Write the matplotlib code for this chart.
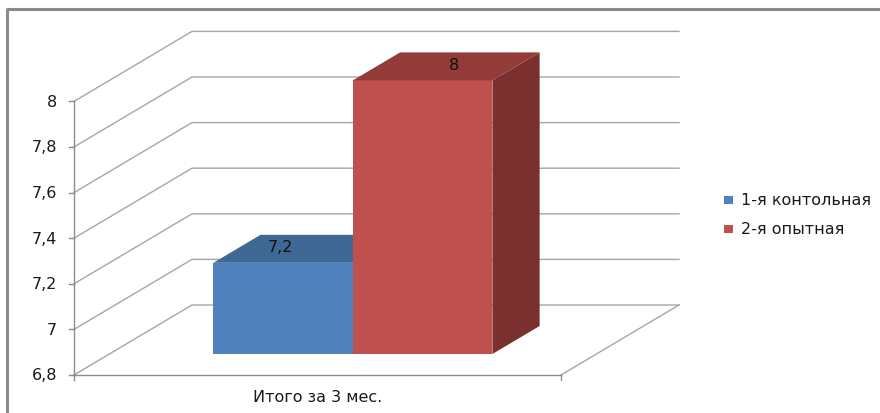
import matplotlib
matplotlib.use("Agg")
import matplotlib.pyplot as plt
from matplotlib.patches import Polygon

# ---- data ----
category = "Итого за 3 мес."
series_names = ["1-я контольная", "2-я опытная"]
values = [7.2, 8.0]
value_labels = ["7,2", "8"]
yticks = [6.8, 7.0, 7.2, 7.4, 7.6, 7.8, 8.0]
ytick_labels = ["6,8", "7", "7,2", "7,4", "7,6", "7,8", "8"]

front_colors = ["#4F81BD", "#C0504D"]
top_colors = ["#3F6895", "#933B39"]
side_colors = ["#34567D", "#7A302F"]
label_dx = [-26, 8]  # label offsets on bar tops (layout)

# ---- pseudo-3D projection (layout constants) ----
VMIN, VMAX = yticks[0], yticks[-1]
OX, OY = 74, 376          # front-left-bottom corner of the floor
W = 487                   # floor width
DX, DY = 118, -70         # depth vector
S = 228                   # pixels per value unit


def P(x, v, d):
    return (OX + x * W + d * DX, OY - (v - VMIN) * S + d * DY)


fig = plt.figure(figsize=(8.8, 4.14), dpi=100)
ax = fig.add_axes([0, 0, 1, 1])
ax.set_xlim(0, 880)
ax.set_ylim(414, 0)
ax.axis("off")

grid_c = "#A6A6A6"
axis_c = "#8C8C8C"
FS = 11.5
font = "DejaVu Sans"
tc_ = "#1a1a1a"

# gridlines: left wall diagonal + back wall horizontal
for v in yticks:
    a, b, c = P(0, v, 0), P(0, v, 1), P(1, v, 1)
    ax.plot([a[0], b[0], c[0]], [a[1], b[1], c[1]], color=grid_c, lw=1.0, zorder=1)
# floor right edge
f1, f2 = P(1, VMIN, 0), P(1, VMIN, 1)
ax.plot([f1[0], f2[0]], [f1[1], f2[1]], color=grid_c, lw=1.0, zorder=1)

# front axes
a0, a1 = P(0, VMIN, 0), P(0, VMAX, 0)
ax.plot([a0[0], a1[0]], [a0[1], a1[1]], color=axis_c, lw=1.0, zorder=2)
ax.plot([a0[0], f1[0]], [a0[1], f1[1]], color=axis_c, lw=1.0, zorder=2)
for v, lab in zip(yticks, ytick_labels):
    p = P(0, v, 0)
    ax.plot([p[0] - 5, p[0]], [p[1], p[1]], color=axis_c, lw=1.0, zorder=2)
    ax.text(p[0] - 17, p[1], lab, ha="right", va="center", fontsize=FS,
            family=font, color=tc_)
for x in (0, 1):
    p = P(x, VMIN, 0)
    ax.plot([p[0], p[0]], [p[1], p[1] + 5], color=axis_c, lw=1.0, zorder=2)
pc = P(0.5, VMIN, 0)
ax.text(pc[0], pc[1] + 22, category, ha="center", va="center", fontsize=FS,
        family=font, color=tc_)

# bars
bar_w = 0.2865
d0, d1 = 0.3, 0.7
n = len(values)
x_left = 0.5 - bar_w * n / 2
for i, (val, lab) in enumerate(zip(values, value_labels)):
    xa = x_left + i * bar_w
    xb = xa + bar_w
    front = [P(xa, VMIN, d0), P(xb, VMIN, d0), P(xb, val, d0), P(xa, val, d0)]
    top = [P(xa, val, d0), P(xb, val, d0), P(xb, val, d1), P(xa, val, d1)]
    side = [P(xb, VMIN, d0), P(xb, VMIN, d1), P(xb, val, d1), P(xb, val, d0)]
    z = 5 + i
    ax.add_patch(Polygon(side, closed=True, fc=side_colors[i], ec="none", zorder=z))
    ax.add_patch(Polygon(front, closed=True, fc=front_colors[i], ec="none", zorder=z))
    ax.add_patch(Polygon(top, closed=True, fc=top_colors[i], ec="none", zorder=z))
    tc = P((xa + xb) / 2, val, (d0 + d1) / 2)
    ax.text(tc[0] + label_dx[i], tc[1] - 2, lab, ha="center", va="center",
            fontsize=FS, family=font, color="#111111", zorder=10)

# legend
for i, name in enumerate(series_names):
    y = 201 + i * 28.5
    ax.add_patch(Polygon([(724, y - 4), (733, y - 4), (733, y + 4), (724, y + 4)],
                         closed=True, fc=front_colors[i], ec="none"))
    ax.text(741, y, name, ha="left", va="center", fontsize=FS, family=font,
            color=tc_)

# outer frame (top and left edges visible)
ax.plot([6, 880], [10, 10], color="#8A8A8A", lw=2.2, solid_capstyle="butt")
ax.plot([7, 7], [10, 414], color="#8A8A8A", lw=2.2, solid_capstyle="butt")

fig.savefig("out.png", dpi=100)
